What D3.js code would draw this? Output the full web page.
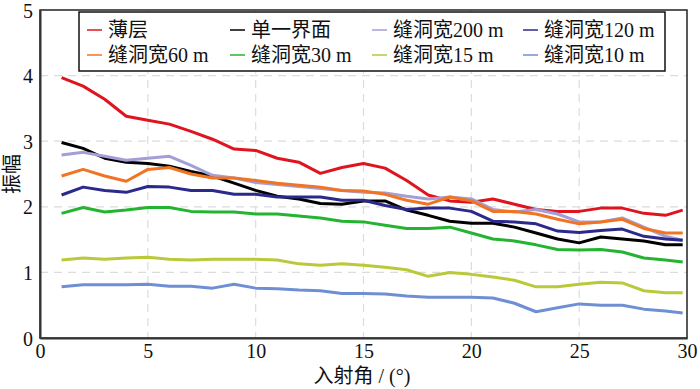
<!DOCTYPE html>
<html>
<head>
<meta charset="utf-8">
<script src="https://cdn.jsdelivr.net/npm/d3@7"></script>
<style>
  body { margin: 0; background: #fff; }
  svg text { font-family: "Liberation Serif", "DejaVu Serif", "Noto Sans CJK SC", serif; }
</style>
</head>
<body>
<div id="chart"></div>
<script>
// incidence angle (deg)
const angles = [1, 2, 3, 4, 5, 6, 7, 8, 9, 10, 11, 12, 13, 14, 15, 16, 17, 18, 19, 20, 21, 22, 23, 24, 25, 26, 27, 28, 29, 29.8];

const thinLayer = [3.97, 3.84, 3.64, 3.38, 3.32, 3.26, 3.15, 3.03, 2.88, 2.86, 2.74, 2.68, 2.51, 2.60, 2.66, 2.59, 2.40, 2.18, 2.09, 2.07, 2.12, 2.04, 1.96, 1.93, 1.93, 1.98, 1.98, 1.90, 1.87, 1.95];
const single    = [2.98, 2.89, 2.74, 2.68, 2.66, 2.62, 2.54, 2.47, 2.36, 2.25, 2.16, 2.12, 2.05, 2.04, 2.09, 2.09, 1.95, 1.87, 1.78, 1.75, 1.75, 1.69, 1.60, 1.51, 1.45, 1.54, 1.51, 1.48, 1.42, 1.42];
const w200      = [2.79, 2.83, 2.77, 2.71, 2.74, 2.77, 2.63, 2.48, 2.44, 2.37, 2.34, 2.31, 2.28, 2.25, 2.22, 2.21, 2.16, 2.12, 2.15, 2.12, 1.96, 1.92, 1.96, 1.89, 1.77, 1.77, 1.83, 1.69, 1.55, 1.49];
const w120      = [2.18, 2.30, 2.25, 2.22, 2.31, 2.30, 2.25, 2.25, 2.19, 2.19, 2.15, 2.15, 2.15, 2.10, 2.10, 2.02, 1.96, 1.98, 1.98, 1.93, 1.78, 1.77, 1.74, 1.63, 1.61, 1.64, 1.66, 1.55, 1.51, 1.49];
const w60       = [2.47, 2.57, 2.47, 2.39, 2.57, 2.60, 2.50, 2.44, 2.44, 2.40, 2.36, 2.33, 2.30, 2.25, 2.24, 2.19, 2.10, 2.04, 2.15, 2.09, 1.93, 1.93, 1.89, 1.81, 1.74, 1.77, 1.81, 1.67, 1.60, 1.60];
const w30       = [1.90, 1.99, 1.92, 1.95, 1.99, 1.99, 1.93, 1.92, 1.92, 1.89, 1.89, 1.86, 1.83, 1.78, 1.77, 1.72, 1.67, 1.67, 1.69, 1.60, 1.51, 1.48, 1.42, 1.35, 1.34, 1.35, 1.31, 1.22, 1.19, 1.16];
const w15       = [1.19, 1.22, 1.20, 1.22, 1.23, 1.20, 1.19, 1.20, 1.20, 1.20, 1.19, 1.13, 1.11, 1.13, 1.11, 1.08, 1.04, 0.94, 1.00, 0.97, 0.93, 0.88, 0.78, 0.78, 0.82, 0.85, 0.84, 0.72, 0.69, 0.69];
const w10       = [0.78, 0.81, 0.81, 0.81, 0.82, 0.79, 0.79, 0.76, 0.82, 0.76, 0.75, 0.73, 0.72, 0.68, 0.68, 0.67, 0.64, 0.62, 0.62, 0.62, 0.61, 0.53, 0.40, 0.46, 0.52, 0.50, 0.50, 0.44, 0.41, 0.38];

const seriesNames = ["薄层", "单一界面", "缝洞宽200 m", "缝洞宽120 m", "缝洞宽60 m", "缝洞宽30 m", "缝洞宽15 m", "缝洞宽10 m"];
const seriesValues = [thinLayer, single, w200, w120, w60, w30, w15, w10];
const colors = ["#e0141e", "#000000", "#a39fd6", "#2b2a8c", "#f07424", "#25b432", "#b9c93a", "#6f8fd4"];

const xTicks = [0, 5, 10, 15, 20, 25, 30];
const yTicks = [0, 1, 2, 3, 4, 5];

const margin = {top: 10, right: 13, bottom: 51, left: 40},
      width = 700 - margin.left - margin.right,
      height = 389 - margin.top - margin.bottom;

const root = d3.select("#chart").append("svg")
    .attr("width", 700)
    .attr("height", 389);

const svg = root.append("g")
    .attr("transform", `translate(${margin.left},${margin.top})`);

const x = d3.scaleLinear().domain([0, 30]).range([0, width]);
const y = d3.scaleLinear().domain([0, 5]).range([height, 0]);

// grid
svg.append("g")
    .selectAll("line")
    .data(xTicks.slice(1, -1))
    .join("line")
    .attr("x1", d => x(d)).attr("x2", d => x(d))
    .attr("y1", 0).attr("y2", height)
    .attr("stroke", "#dcdcdc")
    .attr("stroke-width", 1.2)
    .attr("stroke-dasharray", "8,6");

svg.append("g")
    .selectAll("line")
    .data(yTicks.slice(1, -1))
    .join("line")
    .attr("x1", 0).attr("x2", width)
    .attr("y1", d => y(d)).attr("y2", d => y(d))
    .attr("stroke", "#dcdcdc")
    .attr("stroke-width", 1.2)
    .attr("stroke-dasharray", "8,6");

// lines
const line = d3.line()
    .x((d, i) => x(angles[i]))
    .y(d => y(d));

svg.append("g")
    .selectAll("path")
    .data(seriesValues)
    .join("path")
    .attr("fill", "none")
    .attr("stroke", (d, i) => colors[i])
    .attr("stroke-width", 3)
    .attr("stroke-linejoin", "round")
    .attr("d", line);

// frame
svg.append("rect")
    .attr("width", width)
    .attr("height", height)
    .attr("fill", "none")
    .attr("stroke", "#222")
    .attr("stroke-width", 1.5);

// axes
const xAxis = svg.append("g")
    .attr("transform", `translate(0,${height})`)
    .call(d3.axisBottom(x).tickValues(xTicks).tickFormat(d3.format("d")).tickSize(0).tickPadding(6));
const yAxis = svg.append("g")
    .call(d3.axisLeft(y).tickValues(yTicks).tickFormat(d3.format("d")).tickSize(0).tickPadding(7));

[xAxis, yAxis].forEach(a => {
    a.attr("font-family", null).attr("font-size", null);
    a.select(".domain").attr("stroke", "#333").attr("stroke-width", 2);
    a.selectAll("text")
        .attr("font-size", 20)
        .attr("fill", "#111");
});
yAxis.selectAll("text").attr("dy", "0.35em");

// axis titles
root.append("text")
    .attr("x", 362)
    .attr("y", 383)
    .attr("text-anchor", "middle")
    .attr("font-size", 20)
    .attr("fill", "#111")
    .text("入射角 / (°)");

root.append("text")
    .attr("transform", "translate(19,174) rotate(-90)")
    .attr("text-anchor", "middle")
    .attr("font-size", 20)
    .attr("fill", "#111")
    .text("振幅");

// legend
const legend = root.append("g");
legend.append("rect")
    .attr("x", 79).attr("y", 12)
    .attr("width", 586).attr("height", 59)
    .attr("fill", "#fff")
    .attr("stroke", "#111")
    .attr("stroke-width", 1.5);

const colX = [87, 230, 372, 523];
const rowY = [30, 55];

const item = legend.selectAll("g.item")
    .data(d3.range(seriesNames.length))
    .join("g")
    .attr("class", "item")
    .attr("transform", (d, i) => `translate(${colX[i % 4]},${rowY[Math.floor(i / 4)]})`);

item.append("line")
    .attr("x1", 0).attr("x2", 15)
    .attr("y1", 0).attr("y2", 0)
    .attr("stroke", d => colors[d])
    .attr("stroke-width", 1.5);

item.append("text")
    .attr("x", 21)
    .attr("dy", "0.35em")
    .attr("font-size", 20)
    .attr("fill", "#111")
    .text(d => seriesNames[d]);
</script>
</body>
</html>
